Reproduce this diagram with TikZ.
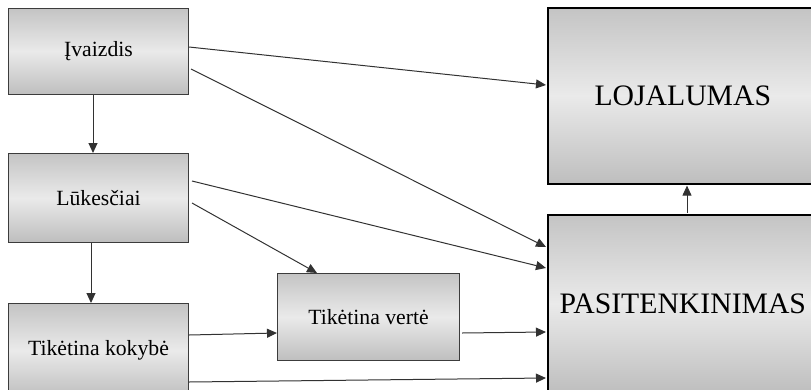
\documentclass[tikz,border=0pt]{standalone}
\usepackage{fontspec}
\setmainfont{Liberation Serif}
\usetikzlibrary{arrows.meta,calc}
\definecolor{shtop}{RGB}{196,196,196}
\definecolor{shmid}{RGB}{234,234,234}
\definecolor{shbot}{RGB}{190,190,190}
\definecolor{edge}{RGB}{60,60,60}
\definecolor{conn}{RGB}{50,50,50}
\tikzset{
  box/.style={draw=edge, line width=1pt, top color=shtop, bottom color=shbot, middle color=shmid,
    inner sep=0pt, anchor=north west, font=\fontsize{21.7}{24}\selectfont},
  bigbox/.style={box, draw=black, line width=1.6pt, font=\fontsize{29.7}{32}\selectfont},
  conn/.style={draw=conn, line width=1pt, -{Triangle[length=10pt,width=9pt]}}
}
\begin{document}
\begin{tikzpicture}[x=1pt,y=-1pt]
\useasboundingbox (0,0) rectangle (811,389);
\clip (0,0) rectangle (811,389);
\node[box, minimum width=180pt, minimum height=86pt] (iv) at (8,8) {Įvaizdis};
\node[box, minimum width=180pt, minimum height=89pt] (lu) at (8,153) {Lūkesčiai};
\node[box, minimum width=180pt, minimum height=94pt] (tk) at (8,303) {Tikėtina kokybė};
\node[box, minimum width=182pt, minimum height=87pt] (tv) at (277,273) {Tikėtina vertė};
\node[bigbox, minimum width=270pt, minimum height=176pt] (lo) at (547,7) {LOJALUMAS};
\node[bigbox, minimum width=270pt, minimum height=178pt] (pa) at (547,214) {PASITENKINIMAS};
\draw[conn] ($(iv.north east)+(0,39)$) -- ($(lo.north west)+(-1,78)$);
\draw[conn] ($(iv.north east)+(2,61)$) -- ($(pa.north west)+(-1,33)$);
\draw[conn] ($(lu.north east)+(3,28)$) -- ($(pa.north west)+(-1,54)$);
\draw[conn] ($(lu.north east)+(3,50)$) -- ($(tv.north west)+(40,0)$);
\draw[conn] ($(tk.north east)+(0,32)$) -- ($(tv.north west)+(0,60)$);
\draw[conn] ($(tv.north east)+(2,60)$) -- ($(pa.north west)+(-1,118)$);
\draw[conn] ($(tk.north east)+(0,79)$) -- ($(pa.north west)+(-1,164)$);
\draw[conn] ($(iv.south west)+(85,0)$) -- ($(lu.north west)+(85,0)$);
\draw[conn] ($(lu.south west)+(83,0)$) -- ($(tk.north west)+(83,0)$);
\draw[conn] ($(pa.north west)+(140,-1)$) -- ($(lo.south west)+(140,1)$);
\end{tikzpicture}
\end{document}
